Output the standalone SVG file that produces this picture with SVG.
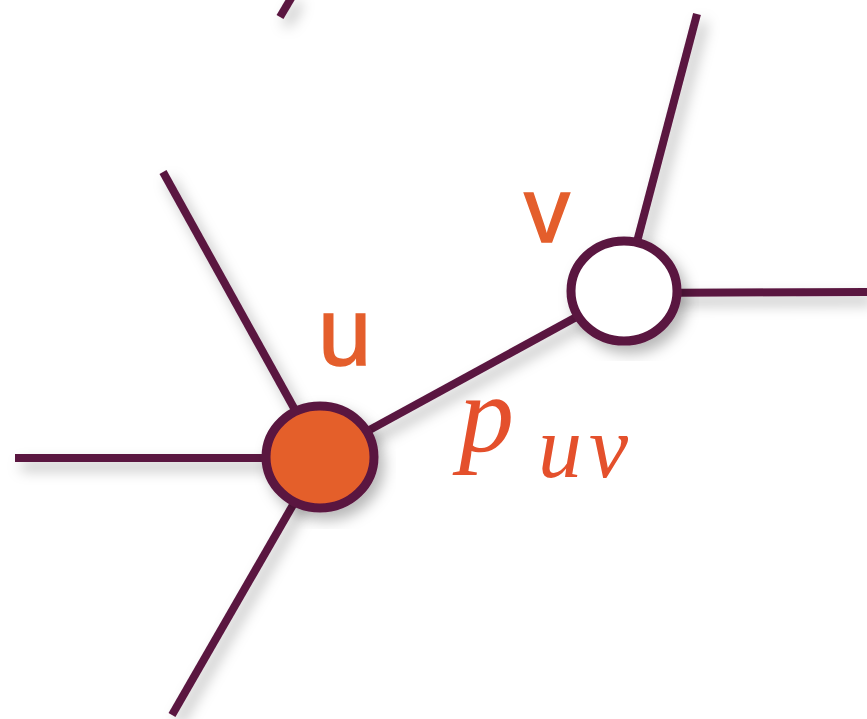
<svg xmlns="http://www.w3.org/2000/svg" width="867" height="719" viewBox="0 0 867 719">
<defs>
<filter id="sh" x="-20%" y="-20%" width="140%" height="140%">
<feDropShadow dx="6" dy="8" stdDeviation="7" flood-color="#000" flood-opacity="0.28"/>
</filter>
<style>
.e{stroke:#5a1640;stroke-width:8;fill:none;stroke-linecap:butt}
.n{stroke:#5a1640;stroke-width:9}
.lab{fill:#e45e2c;stroke:#e45e2c;stroke-width:1.5;font-family:"Liberation Sans",Arial,sans-serif}
.m{fill:#e4502c;font-family:"Liberation Serif","Times New Roman",serif;font-style:italic}
</style>
</defs>
<rect width="867" height="719" fill="#fff"/>
<g id="edges" filter="url(#sh)">
<line class="e" x1="280" y1="17" x2="293" y2="-5"/>
<line class="e" x1="163" y1="172" x2="320" y2="455"/>
<line class="e" x1="15" y1="458" x2="320" y2="458"/>
<line class="e" x1="172" y1="715" x2="320" y2="458"/>
<line class="e" x1="320" y1="457" x2="624" y2="291"/>
<line class="e" x1="697" y1="14" x2="624" y2="291"/>
<line class="e" x1="624" y1="293" x2="867" y2="292"/>
</g>
<g id="u" filter="url(#sh)">
<ellipse class="n" cx="320" cy="457" rx="54" ry="51" fill="#e45e2c"/>
</g>
<g id="v" filter="url(#sh)">
<ellipse class="n" cx="624" cy="291" rx="53" ry="50" fill="#fff"/>
</g>
<text class="lab" x="318" y="365" font-size="96">u</text>
<text class="lab" x="524" y="242" font-size="92">v</text>
<text class="m" x="459" y="452" font-size="110">p</text>
<text class="m" x="538" y="477" font-size="88" letter-spacing="7">uv</text>
</svg>
